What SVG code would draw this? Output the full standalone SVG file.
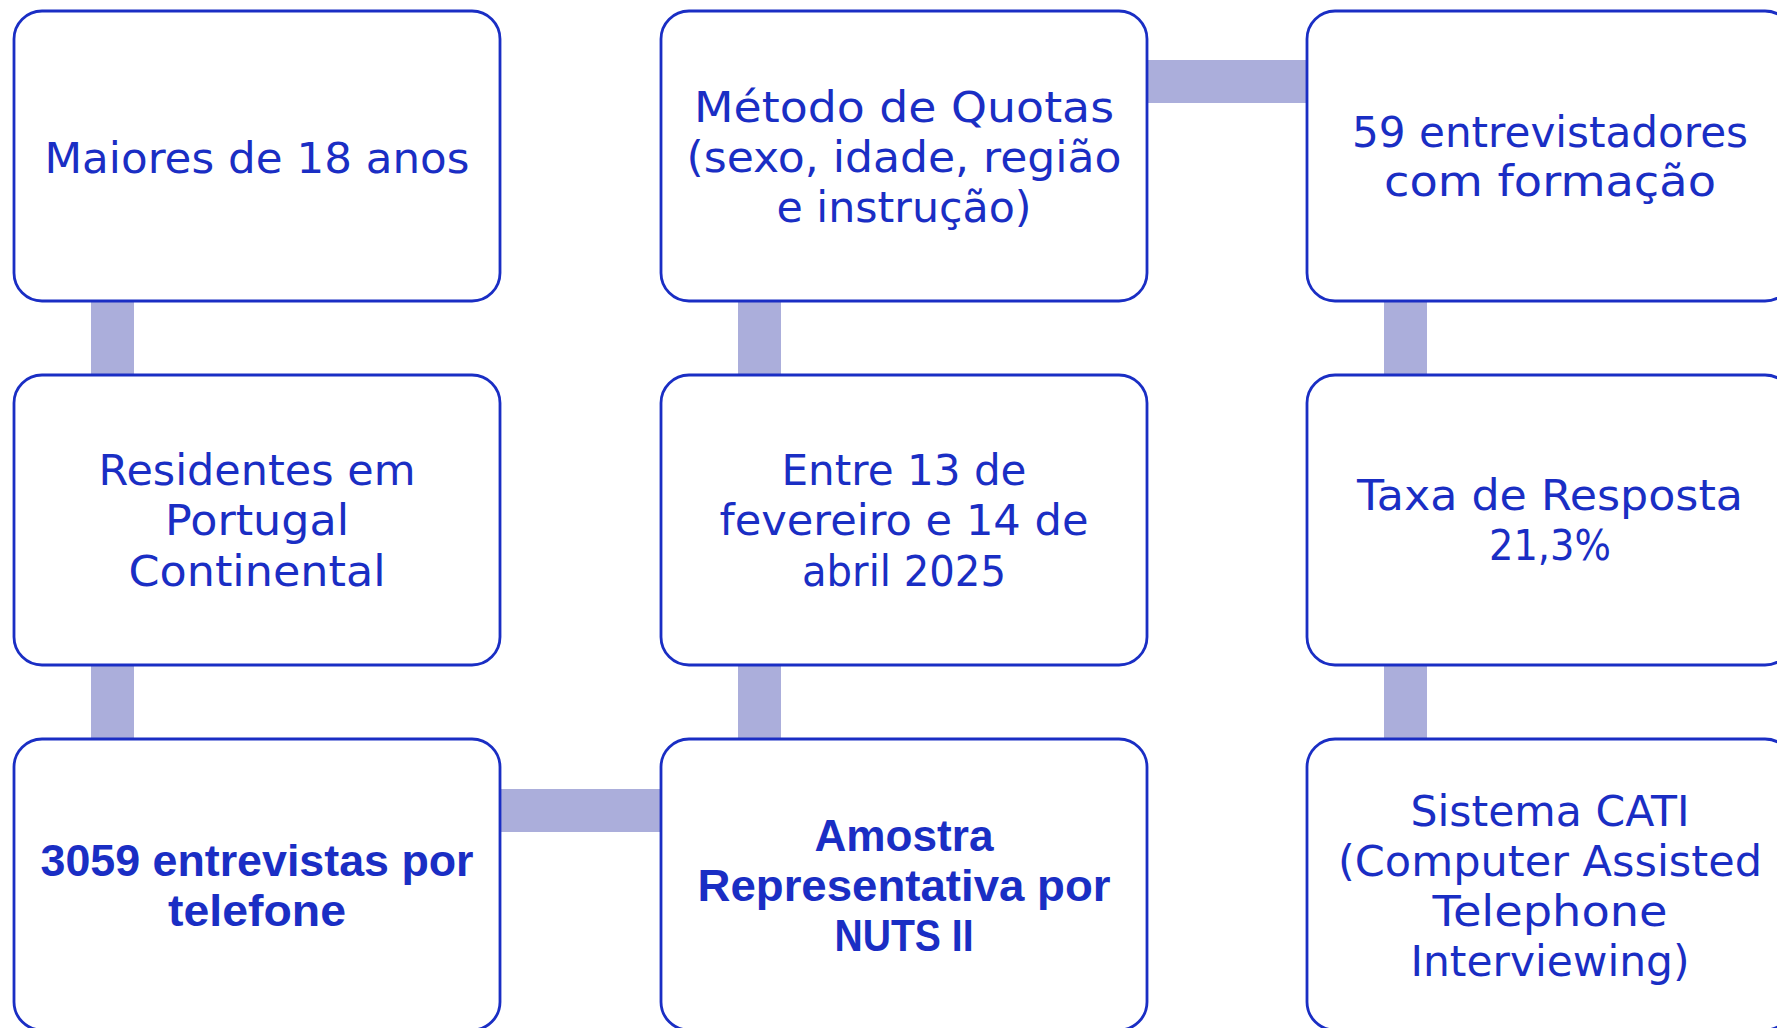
<svg xmlns="http://www.w3.org/2000/svg" width="1777" height="1028" viewBox="0 0 1777 1028">
<style>
.box{fill:#ffffff;stroke:#1a2ec4;stroke-width:2.8}
.con{fill:#abaedb}
.t{font-family:"DejaVu Sans","Liberation Sans",sans-serif;font-size:43px;fill:#1a2ec4;text-anchor:middle}
.b{font-family:"Liberation Sans","DejaVu Sans",sans-serif;font-size:45px;font-weight:bold;fill:#1a2ec4;text-anchor:middle}
</style>
<rect width="1777" height="1028" fill="#ffffff"/>
<g id="connectors">
<rect class="con" x="91" y="300" width="43" height="77"/>
<rect class="con" x="91" y="664" width="43" height="77"/>
<rect class="con" x="738" y="300" width="43" height="77"/>
<rect class="con" x="738" y="664" width="43" height="77"/>
<rect class="con" x="1384" y="300" width="43" height="77"/>
<rect class="con" x="1384" y="664" width="43" height="77"/>
<rect class="con" x="1146" y="60" width="162" height="43"/>
<rect class="con" x="499" y="789" width="163" height="43"/>
</g>
<g id="n1">
<rect class="box" x="14" y="11" width="486" height="290" rx="28"/>
<text class="t" x="257" y="173" textLength="425" lengthAdjust="spacingAndGlyphs">Maiores de 18 anos</text>
</g>
<g id="n2">
<rect class="box" x="14" y="375" width="486" height="290" rx="28"/>
<text class="t" x="257" y="485" textLength="317" lengthAdjust="spacingAndGlyphs">Residentes em</text>
<text class="t" x="257" y="535" textLength="184" lengthAdjust="spacingAndGlyphs">Portugal</text>
<text class="t" x="257" y="586" textLength="257" lengthAdjust="spacingAndGlyphs">Continental</text>
</g>
<g id="n3">
<rect class="box" x="14" y="739" width="486" height="291" rx="28"/>
<text class="b" x="257" y="876" textLength="433" lengthAdjust="spacingAndGlyphs">3059 entrevistas por</text>
<text class="b" x="257" y="926" textLength="178" lengthAdjust="spacingAndGlyphs">telefone</text>
</g>
<g id="n4">
<rect class="box" x="661" y="11" width="486" height="290" rx="28"/>
<text class="t" x="904" y="122" textLength="420" lengthAdjust="spacingAndGlyphs">Método de Quotas</text>
<text class="t" x="904" y="172" textLength="435" lengthAdjust="spacingAndGlyphs">(sexo, idade, região</text>
<text class="t" x="904" y="222" textLength="255" lengthAdjust="spacingAndGlyphs">e instrução)</text>
</g>
<g id="n5">
<rect class="box" x="661" y="375" width="486" height="290" rx="28"/>
<text class="t" x="904" y="485" textLength="245" lengthAdjust="spacingAndGlyphs">Entre 13 de</text>
<text class="t" x="904" y="535" textLength="369" lengthAdjust="spacingAndGlyphs">fevereiro e 14 de</text>
<text class="t" x="904" y="586" textLength="204" lengthAdjust="spacingAndGlyphs">abril 2025</text>
</g>
<g id="n6">
<rect class="box" x="661" y="739" width="486" height="291" rx="28"/>
<text class="b" x="904" y="851" textLength="179" lengthAdjust="spacingAndGlyphs">Amostra</text>
<text class="b" x="904" y="901" textLength="413" lengthAdjust="spacingAndGlyphs">Representativa por</text>
<text class="b" x="904" y="951" textLength="139" lengthAdjust="spacingAndGlyphs">NUTS II</text>
</g>
<g id="n7">
<rect class="box" x="1307" y="11" width="486" height="290" rx="28"/>
<text class="t" x="1550" y="147" textLength="396" lengthAdjust="spacingAndGlyphs">59 entrevistadores</text>
<text class="t" x="1550" y="196" textLength="332" lengthAdjust="spacingAndGlyphs">com formação</text>
</g>
<g id="n8">
<rect class="box" x="1307" y="375" width="486" height="290" rx="28"/>
<text class="t" x="1550" y="510" textLength="386" lengthAdjust="spacingAndGlyphs">Taxa de Resposta</text>
<text class="t" x="1550" y="560" textLength="122" lengthAdjust="spacingAndGlyphs">21,3%</text>
</g>
<g id="n9">
<rect class="box" x="1307" y="739" width="486" height="291" rx="28"/>
<text class="t" x="1550" y="826" textLength="279" lengthAdjust="spacingAndGlyphs">Sistema CATI</text>
<text class="t" x="1550" y="876" textLength="424" lengthAdjust="spacingAndGlyphs">(Computer Assisted</text>
<text class="t" x="1550" y="926" textLength="235" lengthAdjust="spacingAndGlyphs">Telephone</text>
<text class="t" x="1550" y="976" textLength="279" lengthAdjust="spacingAndGlyphs">Interviewing)</text>
</g>
</svg>
